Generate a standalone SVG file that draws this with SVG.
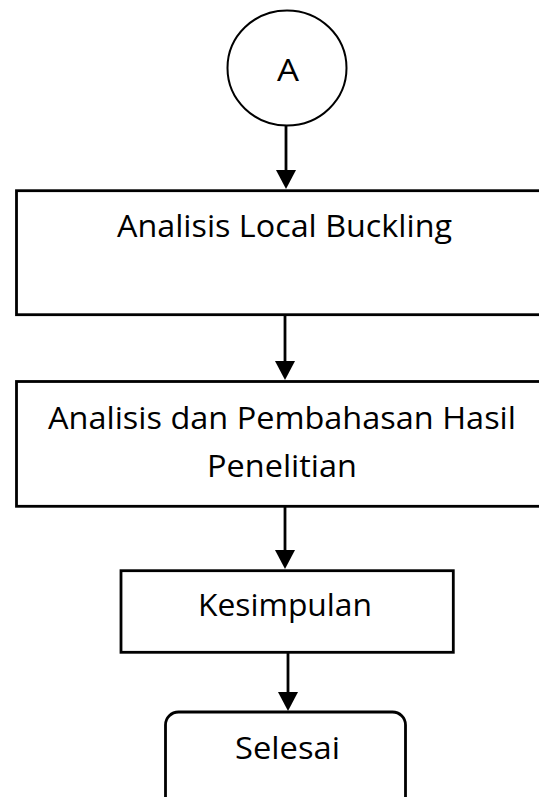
<svg xmlns="http://www.w3.org/2000/svg" width="539" height="797" viewBox="0 0 539 797">
<defs>
<style>
.box{fill:#fff;stroke:#000;stroke-width:2.8}
.lbl{font-family:"Open Sans","Liberation Sans",sans-serif;font-size:31px;fill:#000;text-anchor:middle}
.con{stroke:#000;stroke-width:2.8;fill:none;marker-end:url(#ah)}
</style>
<marker id="ah" markerWidth="19" markerHeight="20" viewBox="0 0 19 20" refX="15" refY="10" orient="auto" markerUnits="userSpaceOnUse">
<path d="M0,0 L19,10 L0,20 Z" fill="#000"/>
</marker>
</defs>
<rect width="539" height="797" fill="#fff"/>
<g id="connectors">
<line class="con" x1="286" y1="125" x2="286" y2="185"/>
<line class="con" x1="285" y1="316" x2="285" y2="376"/>
<line class="con" x1="285" y1="507" x2="285" y2="565"/>
<line class="con" x1="288" y1="653" x2="288" y2="707"/>
</g>
<g id="nodeA">
<ellipse cx="287" cy="68" rx="59.5" ry="57.5" fill="#fff" stroke="#000" stroke-width="2"/>
<text class="lbl" x="288" y="81" textLength="22" lengthAdjust="spacingAndGlyphs">A</text>
</g>
<g id="node1">
<rect class="box" x="16.5" y="190.7" width="540" height="124"/>
<text class="lbl" x="284.5" y="237" textLength="335" lengthAdjust="spacingAndGlyphs">Analisis Local Buckling</text>
</g>
<g id="node2">
<rect class="box" x="16.5" y="381.5" width="540" height="124.8"/>
<text class="lbl" x="282" y="428.5" textLength="468" lengthAdjust="spacingAndGlyphs">Analisis dan Pembahasan Hasil</text>
<text class="lbl" x="282" y="477" textLength="150" lengthAdjust="spacingAndGlyphs">Penelitian</text>
</g>
<g id="node3">
<rect class="box" x="121" y="570.7" width="332.3" height="81.6"/>
<text class="lbl" x="285" y="616" textLength="174" lengthAdjust="spacingAndGlyphs">Kesimpulan</text>
</g>
<g id="node4">
<rect class="box" x="165.5" y="712" width="240" height="120" rx="13" ry="13"/>
<text class="lbl" x="287.5" y="759" textLength="105" lengthAdjust="spacingAndGlyphs">Selesai</text>
</g>
</svg>
